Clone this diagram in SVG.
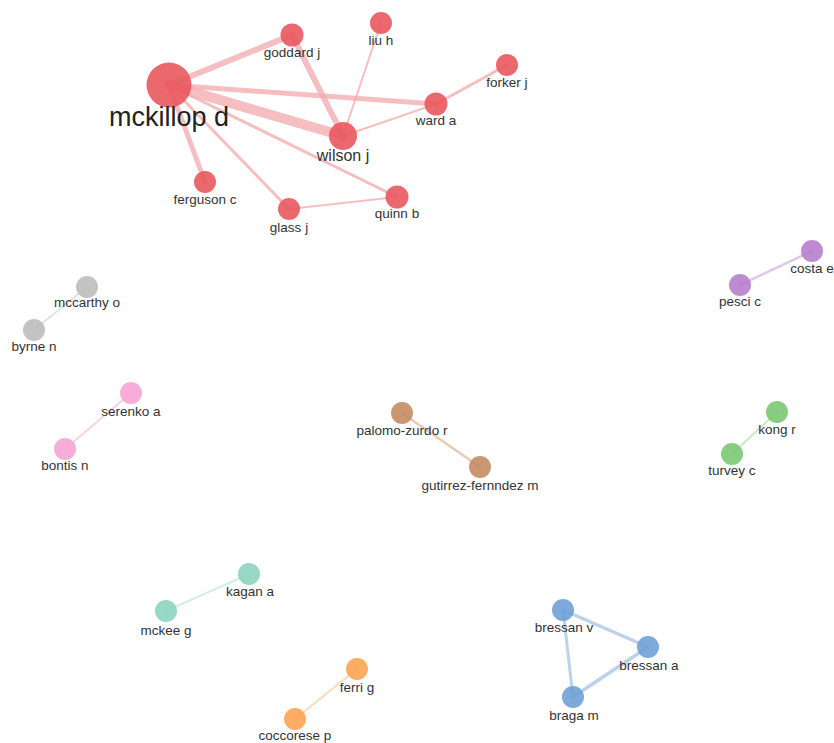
<svg xmlns="http://www.w3.org/2000/svg" width="834" height="743" viewBox="0 0 834 743">
<style>
text{font-family:"Liberation Sans",Arial,sans-serif;font-size:13.5px;fill:#333;text-anchor:middle}
.big{font-size:27px;fill:#222}
.mid{font-size:16px}
circle{fill-opacity:0.88}
.red{fill:#e8545a}.gray{fill:#bbbbbb}.pink{fill:#f6a2d3}.brown{fill:#c4875f}.purple{fill:#b57acc}.green{fill:#78c66f}.teal{fill:#87d3bb}.orange{fill:#fca24f}.blue{fill:#6b9ed6}
line{stroke-linecap:round}
.er{stroke:#f3aeb0;stroke-opacity:0.8}
</style>
<rect width="834" height="743" fill="#fff"/>
<g id="connectors">
<line class="er" x1="169" y1="85" x2="343" y2="136" stroke-width="10"/>
<line class="er" x1="169" y1="85" x2="292" y2="35" stroke-width="6"/>
<line class="er" x1="292" y1="35" x2="343" y2="136" stroke-width="6"/>
<line class="er" x1="169" y1="85" x2="436" y2="104" stroke-width="5"/>
<line class="er" x1="169" y1="85" x2="205" y2="182" stroke-width="5"/>
<line class="er" x1="169" y1="85" x2="289" y2="209" stroke-width="3"/>
<line class="er" x1="169" y1="85" x2="397" y2="197" stroke-width="3"/>
<line class="er" x1="381" y1="23" x2="343" y2="136" stroke-width="2"/>
<line class="er" x1="343" y1="136" x2="436" y2="104" stroke-width="2"/>
<line class="er" x1="436" y1="104" x2="507" y2="65" stroke-width="3"/>
<line class="er" x1="289" y1="209" x2="397" y2="197" stroke-width="2"/>
<line x1="87" y1="287" x2="34" y2="330" stroke="#e3e3e3" stroke-width="2"/>
<line x1="131" y1="393" x2="65" y2="449" stroke="#f9d2e8" stroke-width="2"/>
<line x1="402" y1="413" x2="480" y2="467" stroke="#e6cbb9" stroke-width="2.5"/>
<line x1="812" y1="251" x2="740" y2="285" stroke="#dfc7e8" stroke-width="2.5"/>
<line x1="777" y1="412" x2="732" y2="454" stroke="#cbe9c6" stroke-width="2"/>
<line x1="249" y1="574" x2="166" y2="611" stroke="#d2eee5" stroke-width="2"/>
<line x1="357" y1="669" x2="295" y2="719" stroke="#fadbbd" stroke-width="2"/>
<line x1="563" y1="610" x2="648" y2="647" stroke="#bdd2ea" stroke-width="3.5"/>
<line x1="563" y1="610" x2="573" y2="697" stroke="#bdd2ea" stroke-width="3"/>
<line x1="648" y1="647" x2="573" y2="697" stroke="#bdd2ea" stroke-width="3.5"/>
</g>
<g id="mckillop-d"><circle class="red" cx="169" cy="85" r="22.5"/><text class="big" x="169" y="126">mckillop d</text></g>
<g id="goddard-j"><circle class="red" cx="292" cy="35" r="11.5"/><text x="292" y="57">goddard j</text></g>
<g id="liu-h"><circle class="red" cx="381" cy="23" r="11"/><text x="381" y="45">liu h</text></g>
<g id="forker-j"><circle class="red" cx="507" cy="65" r="11"/><text x="507" y="87">forker j</text></g>
<g id="ward-a"><circle class="red" cx="436" cy="104" r="11.5"/><text x="436" y="125">ward a</text></g>
<g id="wilson-j"><circle class="red" cx="343" cy="136" r="14"/><text class="mid" x="343" y="161">wilson j</text></g>
<g id="ferguson-c"><circle class="red" cx="205" cy="182" r="11"/><text x="205" y="204">ferguson c</text></g>
<g id="glass-j"><circle class="red" cx="289" cy="209" r="11"/><text x="289" y="232">glass j</text></g>
<g id="quinn-b"><circle class="red" cx="397" cy="197" r="11.5"/><text x="397" y="218">quinn b</text></g>
<g id="mccarthy-o"><circle class="gray" cx="87" cy="287" r="11"/><text x="87" y="307">mccarthy o</text></g>
<g id="byrne-n"><circle class="gray" cx="34" cy="330" r="11"/><text x="34" y="351">byrne n</text></g>
<g id="serenko-a"><circle class="pink" cx="131" cy="393" r="11"/><text x="131" y="416">serenko a</text></g>
<g id="bontis-n"><circle class="pink" cx="65" cy="449" r="11"/><text x="65" y="470">bontis n</text></g>
<g id="palomo-zurdo-r"><circle class="brown" cx="402" cy="413" r="11"/><text x="402" y="435">palomo-zurdo r</text></g>
<g id="gutirrez-fernndez-m"><circle class="brown" cx="480" cy="467" r="11"/><text x="480" y="490">gutirrez-fernndez m</text></g>
<g id="costa-e"><circle class="purple" cx="812" cy="251" r="11"/><text x="812" y="273">costa e</text></g>
<g id="pesci-c"><circle class="purple" cx="740" cy="285" r="11"/><text x="740" y="306">pesci c</text></g>
<g id="kong-r"><circle class="green" cx="777" cy="412" r="11"/><text x="777" y="434">kong r</text></g>
<g id="turvey-c"><circle class="green" cx="732" cy="454" r="11"/><text x="732" y="475">turvey c</text></g>
<g id="kagan-a"><circle class="teal" cx="249" cy="574" r="11"/><text x="250" y="596">kagan a</text></g>
<g id="mckee-g"><circle class="teal" cx="166" cy="611" r="11"/><text x="166" y="635">mckee g</text></g>
<g id="ferri-g"><circle class="orange" cx="357" cy="669" r="11"/><text x="357" y="692">ferri g</text></g>
<g id="coccorese-p"><circle class="orange" cx="295" cy="719" r="11"/><text x="295" y="740">coccorese p</text></g>
<g id="bressan-v"><circle class="blue" cx="563" cy="610" r="11"/><text x="564" y="632">bressan v</text></g>
<g id="bressan-a"><circle class="blue" cx="648" cy="647" r="11"/><text x="649" y="670">bressan a</text></g>
<g id="braga-m"><circle class="blue" cx="573" cy="697" r="11"/><text x="574" y="720">braga m</text></g>
</svg>
